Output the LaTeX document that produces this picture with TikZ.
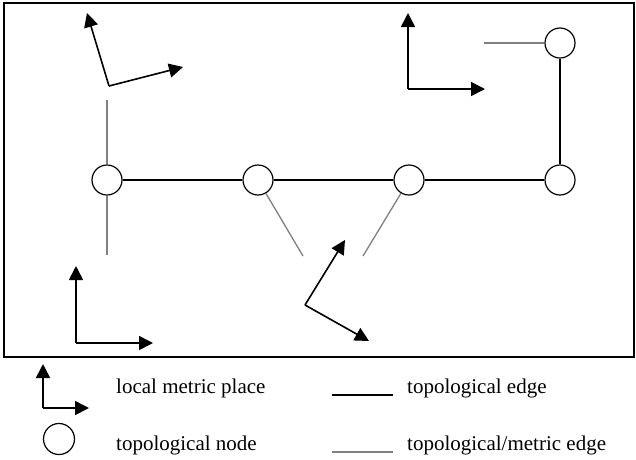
\documentclass[tikz,border=0pt]{standalone}
\usepackage{fontspec}
\setmainfont{Liberation Serif}
\usetikzlibrary{arrows.meta,shapes.geometric}
\tikzset{
  tnode/.style={circle,draw=black,line width=1.2pt,minimum size=30pt,inner sep=0pt,fill=white},
  topo/.style={draw=black,line width=1.3pt},
  tmet/.style={draw=black!50,line width=1.3pt},
  axis/.style={draw=black,line width=1.6pt,-{Triangle[length=14pt,width=14pt]}},
  lbl/.style={anchor=base west,font=\fontsize{21}{24}\selectfont,inner sep=0pt}
}
\begin{document}
\begin{tikzpicture}[x=1pt,y=-1pt]
\useasboundingbox (0,0) rectangle (636,459);
\draw[line width=1.3pt] (4,3) rectangle (634,357);
% topological nodes
\node[tnode] (n1) at (107,180) {};
\node[tnode] (n2) at (258,180) {};
\node[tnode] (n3) at (409,180) {};
\node[tnode] (n4) at (560,180) {};
\node[tnode] (n5) at (560,43) {};
\draw[topo] (n1) -- (n2);
\draw[topo] (n2) -- (n3);
\draw[topo] (n3) -- (n4);
\draw[topo] (n4) -- (n5);
% metric place free ends
\coordinate (g1) at (107,100);
\coordinate (g2) at (107,255);
\coordinate (g3) at (303,256);
\coordinate (g4) at (363,256);
\coordinate (g5) at (484,43);
\draw[tmet] (n1) -- (g1);
\draw[tmet] (n1) -- (g2);
\draw[tmet] (n2) -- (g3);
\draw[tmet] (n3) -- (g4);
\draw[tmet] (n5) -- (g5);
% local metric places
\coordinate (o1) at (109,86);
\coordinate (o1a) at (87,13);
\coordinate (o1b) at (183,67);
\draw[axis] (o1) -- (o1a);
\draw[axis] (o1) -- (o1b);
\coordinate (o2) at (408,89);
\coordinate (o2a) at (408,13);
\coordinate (o2b) at (485,89);
\draw[axis] (o2) -- (o2a);
\draw[axis] (o2) -- (o2b);
\coordinate (o3) at (76,343);
\coordinate (o3a) at (76,266);
\coordinate (o3b) at (153,343);
\draw[axis] (o3) -- (o3a);
\draw[axis] (o3) -- (o3b);
\coordinate (o4) at (305,305);
\coordinate (o4a) at (345,240);
\coordinate (o4b) at (369,341);
\draw[axis] (o4) -- (o4a);
\draw[axis] (o4) -- (o4b);
% legend
\coordinate (lo) at (43,408);
\coordinate (loa) at (43,364);
\coordinate (lob) at (89,408);
\draw[axis] (lo) -- (loa);
\draw[axis] (lo) -- (lob);
\node[tnode,minimum size=31pt] (ln) at (59,439) {};
\coordinate (le1) at (332,395);
\coordinate (le2) at (393,395);
\draw[topo] (le1) -- (le2);
\coordinate (lm1) at (332,452);
\coordinate (lm2) at (393,452);
\draw[tmet] (lm1) -- (lm2);
\node[lbl] (t1) at (116,393) {local metric place};
\node[lbl] (t2) at (407,393) {topological edge};
\node[lbl] (t3) at (116,450) {topological node};
\node[lbl] (t4) at (407,450) {topological/metric edge};
\end{tikzpicture}
\end{document}
